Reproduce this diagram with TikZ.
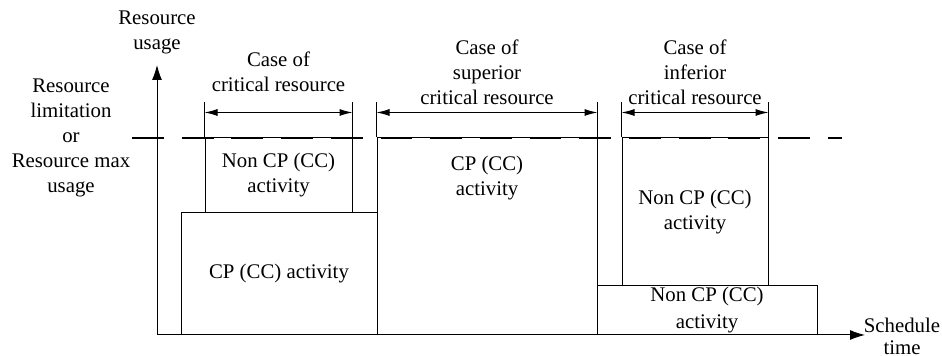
\documentclass[tikz,border=0pt]{standalone}
\usepackage{fontspec}
\setmainfont{Liberation Serif}
\usetikzlibrary{arrows.meta,positioning}

\begin{document}
\begin{tikzpicture}[x=0.5pt,y=-0.5pt,line width=0.5pt,
			activity/.style={draw, align=center, inner sep=0pt},
			dim/.style={{Latex[length=6.5pt,width=3.5pt]}-{Latex[length=6.5pt,width=3.5pt]}},
			axis/.style={-{Latex[length=7.5pt,width=5pt]}},
			limit/.style={line width=1pt, dash pattern=on 15.9pt off 8.95pt},
			lbl/.style={align=center},
			font=\fontsize{10.4}{12.5}\selectfont]

			\useasboundingbox (0,0) rectangle (942,356);

			%%% Case of critical resource
			\node at (279,274) [activity,minimum width=98pt,minimum height=61pt] (cpA) {CP (CC) activity};
			\node at (278.5,175.5) [activity,minimum width=73.5pt,minimum height=37.5pt] (ncA) {Non CP (CC)\\activity};

			%%% Case of superior critical resource
			\node at (487,236.5) [activity,minimum width=110pt,minimum height=98.5pt] (cpB) {};
			\node at (487,178.5) [lbl] (cpBtext) {CP (CC)\\activity};

			%%% Case of inferior critical resource
			\node at (695,212) [activity,minimum width=73pt,minimum height=74pt] (ncC) {Non CP (CC)\\activity};
			\node at (707,310.5) [activity,minimum width=110pt,minimum height=24.5pt,
				font=\fontsize{10.4}{13.5}\selectfont] (ncD) {Non CP (CC)\\activity};

			%%% Axes
			\coordinate (origin) at (157,335);
			\coordinate (ytip) at (157,65);
			\coordinate (xtip) at (865,335);
			\draw [axis] (origin) -- (ytip);
			\draw [axis] (origin) -- (xtip);
			\node at (157,32.5) [lbl] (yname) {Resource\\usage};
			\node at (902,336) [lbl,font=\fontsize{10.4}{11}\selectfont] (xname) {Schedule\\time};

			%%% Resource limitation
			\coordinate (limL) at (132,138);
			\coordinate (limR) at (842,138);
			\draw [limit] (limL) -- (limR);
			\node at (71,138) [lbl] (limname) {Resource\\limitation\\or\\Resource max\\usage};

			%% ticks and spans
			\draw (ncA.north west) -- +(0,-35);
			\draw (ncA.north east) -- +(0,-35);
			\draw (cpB.north west) -- +(0,-35);
			\draw (cpB.north east) -- +(0,-35);
			\draw (ncC.north west) -- +(0,-35);
			\draw (ncC.north east) -- +(0,-35);
			\draw [dim] ([yshift=12.5pt]ncA.north west) -- ([yshift=12.5pt]ncA.north east);
			\draw [dim] ([yshift=12.5pt]cpB.north west) -- ([yshift=12.5pt]cpB.north east);
			\draw [dim] ([yshift=12.5pt]ncC.north west) -- ([yshift=12.5pt]ncC.north east);
			\node at (278.5,72) [lbl] (caseA) {Case of\\critical resource};
			\node at (487,72) [lbl] (caseB) {Case of\\superior\\critical resource};
			\node at (695,72) [lbl] (caseC) {Case of\\inferior\\critical resource};
		\end{tikzpicture}
\end{document}
